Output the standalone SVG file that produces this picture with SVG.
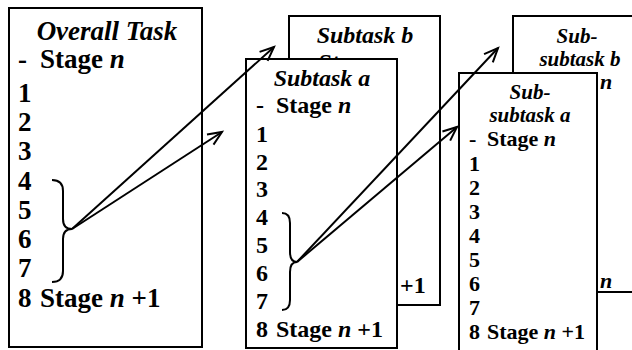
<svg xmlns="http://www.w3.org/2000/svg" width="632" height="350" viewBox="0 0 632 350">
<defs>
<style>
.box{fill:#fff;stroke:#000;stroke-width:2}
.t{font-weight:bold;fill:#000}
.ti{font-style:italic}
.L{font-size:27px}
.M{font-size:24px}
.R{font-size:22px}
.RT{font-size:21px}
.c{text-anchor:middle}
.brace{fill:none;stroke:#000;stroke-width:2}
.arr{fill:none;stroke:#000;stroke-width:2;marker-end:url(#ah)}
</style>
<marker id="ah" markerUnits="userSpaceOnUse" markerWidth="20" markerHeight="20" refX="15" refY="7" orient="auto" viewBox="0 0 20 14">
<path d="M1,1 L15,7 L1,13" fill="none" stroke="#000" stroke-width="2"/>
</marker>
<clipPath id="clipB"><rect x="289" y="16" width="151" height="43"/></clipPath>
</defs>
<rect width="632" height="350" fill="#fff"/>

<g id="overall-task" font-family="'Liberation Serif', 'Times New Roman', 'DejaVu Serif', serif">
<rect class="box" x="9" y="8" width="193" height="339"/>
<text class="t ti L c" x="107" y="40">Overall Task</text>
<text class="t L" x="18" y="68">-<tspan x="40">Stage <tspan class="ti">n</tspan></tspan></text>
<text class="t L" x="18" y="102">1</text>
<text class="t L" x="18" y="131">2</text>
<text class="t L" x="18" y="160">3</text>
<text class="t L" x="18" y="190">4</text>
<text class="t L" x="18" y="219">5</text>
<text class="t L" x="18" y="248">6</text>
<text class="t L" x="18" y="277">7</text>
<text class="t L" x="18" y="307">8<tspan x="40">Stage <tspan class="ti">n</tspan> +1</tspan></text>
<path class="brace" d="M52,180 Q63,180 63,191 L63,219 Q63,229 72,229 Q63,229 63,239 L63,271 Q63,282 52,282"/>
</g>

<g id="subtask-b" font-family="'Liberation Serif', 'Times New Roman', 'DejaVu Serif', serif">
<rect class="box" x="289" y="16" width="151" height="289"/>
<text class="t ti M c" x="365" y="43">Subtask b</text>
<text class="t M" x="319" y="70" clip-path="url(#clipB)">St</text>
<text class="t M" x="400" y="293">+1</text>
</g>

<g id="subtask-a" font-family="'Liberation Serif', 'Times New Roman', 'DejaVu Serif', serif">
<rect class="box" x="246" y="59" width="151" height="289"/>
<text class="t ti M c" x="322" y="86">Subtask a</text>
<text class="t M" x="256" y="113">-<tspan x="276">Stage <tspan class="ti">n</tspan></tspan></text>
<text class="t M" x="256" y="142">1</text>
<text class="t M" x="256" y="170">2</text>
<text class="t M" x="256" y="197">3</text>
<text class="t M" x="256" y="225">4</text>
<text class="t M" x="256" y="253">5</text>
<text class="t M" x="256" y="281">6</text>
<text class="t M" x="256" y="309">7</text>
<text class="t M" x="256" y="337">8<tspan x="276">Stage <tspan class="ti">n</tspan> +1</tspan></text>
<path class="brace" d="M282,213 Q290,213 290,223 L290,252 Q290,262 297,262 Q290,262 290,272 L290,300 Q290,310 282,310"/>
</g>

<g id="sub-subtask-b" font-family="'Liberation Serif', 'Times New Roman', 'DejaVu Serif', serif">
<rect class="box" x="513" y="16" width="140" height="276"/>
<text class="t ti RT c" x="577" y="43">Sub-</text>
<text class="t ti RT c" x="580" y="66">subtask b</text>
<text class="t ti R" x="600" y="89">n</text>
<text class="t ti R" x="600" y="288">n</text>
</g>

<g id="sub-subtask-a" font-family="'Liberation Serif', 'Times New Roman', 'DejaVu Serif', serif">
<rect class="box" x="459" y="73" width="138" height="290"/>
<text class="t ti RT c" x="530" y="99">Sub-</text>
<text class="t ti RT c" x="530" y="122">subtask a</text>
<text class="t R" x="469" y="146">-<tspan x="487">Stage <tspan class="ti">n</tspan></tspan></text>
<text class="t R" x="469" y="171">1</text>
<text class="t R" x="469" y="195">2</text>
<text class="t R" x="469" y="219">3</text>
<text class="t R" x="469" y="243">4</text>
<text class="t R" x="469" y="267">5</text>
<text class="t R" x="469" y="291">6</text>
<text class="t R" x="469" y="315">7</text>
<text class="t R" x="469" y="339">8<tspan x="487">Stage <tspan class="ti">n</tspan> +1</tspan></text>
</g>

<g id="connectors">
<line class="arr" x1="72" y1="229" x2="274" y2="47"/>
<line class="arr" x1="72" y1="229" x2="222" y2="132"/>
<line class="arr" x1="297" y1="262" x2="498" y2="48"/>
<line class="arr" x1="297" y1="262" x2="457" y2="127"/>
</g>
</svg>
